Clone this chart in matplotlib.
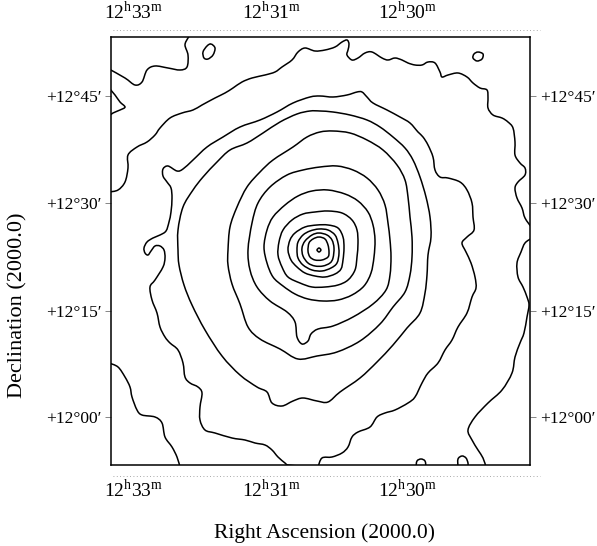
import numpy as np
import matplotlib
matplotlib.use("Agg")
import matplotlib.pyplot as plt
from matplotlib.path import Path
from matplotlib.patches import PathPatch
from matplotlib.lines import Line2D

plt.rcParams['font.family'] = ['Liberation Serif', 'DejaVu Serif']
plt.rcParams['mathtext.fontset'] = 'custom'
plt.rcParams['mathtext.rm'] = 'Liberation Serif'

# map grid: column / row of the contour image (row grows downwards)
ra_cols = [134, 272, 408]
ra_labels = [r'12$^{\rm h}$33$^{\rm m}$', r'12$^{\rm h}$31$^{\rm m}$', r'12$^{\rm h}$30$^{\rm m}$']
dec_rows = [96, 203, 311, 417]
dec_labels = ['+12°45′', '+12°30′', '+12°15′', '+12°00′']

# closed surface brightness contours, inner to outer (col, row)
lev1 = [(321, 250), (319, 252), (317, 250), (319, 248)]
lev2 = [(319, 237), (325, 239), (328, 245), (329, 252), (328, 257), (322, 260),
        (315, 260), (310, 257), (308, 251), (309, 243), (313, 239)]
lev3 = [(319, 233), (327, 235), (332, 240), (334, 248), (333, 258), (330, 263),
        (323, 266), (315, 266), (308, 263), (303, 256), (302, 248), (305, 241), (312, 235)]
lev4 = [(319, 229), (328, 230), (335, 235), (338, 243), (339, 253), (337, 263),
        (331, 268), (322, 271), (312, 270), (303, 265), (298, 258), (297, 250),
        (298, 242), (303, 235), (310, 231)]
lev5 = [(317, 225), (328, 225), (338, 228), (343, 237), (344, 248), (343, 260),
        (341, 269), (335, 274), (325, 277), (315, 276), (305, 273), (297, 267),
        (291, 260), (288, 250), (290, 240), (295, 233), (305, 227)]
lev6 = [(315, 212), (328, 211), (342, 213), (352, 220), (357, 230), (358, 243),
        (357, 257), (355, 270), (348, 280), (338, 285), (325, 287), (312, 287),
        (300, 283), (288, 277), (282, 267), (278, 255), (279, 242), (283, 230),
        (292, 220), (303, 214)]
lev7 = [(312, 191), (328, 190), (345, 194), (358, 201), (368, 212), (373, 225),
        (375, 240), (374, 257), (371, 273), (364, 286), (352, 295), (338, 300),
        (323, 301), (308, 299), (295, 294), (283, 286), (273, 277), (267, 263),
        (264, 247), (267, 230), (273, 217), (285, 205), (298, 196)]
lev8 = [(320, 167), (337, 166), (353, 170), (367, 178), (378, 190), (385, 205),
        (388, 223), (390, 240), (391, 257), (390, 275), (386, 290), (373, 304),
        (353, 317), (333, 326), (318, 329), (311, 334), (308, 341), (302, 344),
        (297, 337), (295, 322), (287, 312), (270, 301), (257, 287), (250, 270),
        (248, 250), (252, 223), (258, 203), (270, 187), (287, 175), (303, 170)]
lev9 = [(320, 132), (333, 131), (350, 133), (367, 140), (383, 150), (397, 165),
        (405, 180), (408, 197), (410, 217), (412, 237), (412, 257), (410, 275),
        (405, 292), (393, 307), (380, 324), (360, 341), (337, 352), (317, 356),
        (298, 359), (280, 349), (260, 339), (248, 327), (240, 304), (232, 284),
        (228, 265), (228, 250), (230, 227), (237, 207), (247, 187), (260, 172),
        (273, 160), (293, 147), (307, 137)]
lev10 = [(320, 111), (333, 112), (350, 115), (367, 120), (380, 127), (393, 137),
         (405, 148), (413, 160), (420, 177), (426, 197), (430, 217), (431, 237),
         (428, 255), (427, 275), (425, 293), (420, 313), (407, 328), (393, 345),
         (377, 362), (360, 378), (340, 392), (328, 402), (317, 401), (303, 398),
         (293, 401), (282, 406), (272, 403), (267, 392), (257, 387), (240, 375),
         (222, 356), (205, 330), (192, 305), (184, 285), (179, 265), (178, 250),
         (178, 230), (183, 207), (193, 190), (203, 177), (217, 162), (230, 150),
         (247, 143), (263, 133), (280, 122), (297, 114), (310, 111)]

# open contours cut by the map border
lev11 = [(300, 466), (288, 465), (285, 463), (278, 457), (272, 450), (265, 445),
         (255, 443), (245, 440), (232, 438), (215, 433), (205, 430), (200, 420),
         (200, 407), (202, 393), (198, 387), (190, 383), (185, 377), (183, 363),
         (178, 350), (170, 343), (165, 337), (160, 327), (157, 313), (152, 300),
         (150, 287), (155, 280), (163, 267), (165, 258), (164, 250), (160, 246),
         (155, 246), (151, 251), (148, 255), (145, 253), (144, 248), (147, 242),
         (153, 238), (160, 235), (166, 231), (169, 222), (171, 212), (172, 198),
         (171, 188), (167, 182), (163, 176), (163, 169), (168, 166), (177, 171),
         (183, 169), (193, 160), (207, 147), (223, 137), (240, 127), (260, 120),
         (277, 112), (293, 103), (310, 97), (320, 96), (333, 97), (347, 95),
         (357, 92), (362, 92), (367, 97), (373, 103), (387, 110), (400, 117),
         (410, 123), (418, 132), (423, 137), (428, 145), (433, 157), (435, 170),
         (440, 177), (448, 178), (460, 182), (467, 190), (472, 203), (473, 217),
         (474, 230), (467, 237), (462, 243), (466, 252), (471, 263), (475, 277),
         (476, 288), (472, 297), (467, 313), (458, 327), (452, 340), (445, 350),
         (438, 363), (428, 373), (422, 383), (415, 397), (408, 403), (395, 410),
         (385, 413), (377, 417), (370, 427), (358, 432), (352, 437), (348, 447),
         (342, 453), (332, 457), (322, 458), (318, 467)]
lev12 = [(109, 192), (118, 190), (125, 182), (128, 168), (128, 155), (137, 147),
         (147, 142), (155, 135), (160, 128), (170, 118), (182, 113), (193, 110),
         (202, 105), (215, 98), (225, 93), (233, 88), (242, 82), (252, 78),
         (265, 75), (275, 72), (282, 67), (292, 60), (298, 52), (305, 48),
         (315, 51), (325, 50), (335, 47), (342, 42), (347, 40), (349, 44),
         (348, 50), (347, 55), (352, 60), (358, 58), (365, 53), (372, 52),
         (382, 58), (388, 60), (395, 58), (402, 60), (408, 63), (415, 65),
         (422, 65), (428, 62), (435, 63), (440, 72), (442, 77), (448, 75),
         (458, 73), (467, 77), (473, 83), (480, 88), (487, 90), (488, 98),
         (488, 108), (493, 115), (502, 118), (508, 122), (513, 128), (515, 142),
         (515, 155), (520, 163), (525, 168), (525, 175), (518, 182), (515, 188),
         (517, 198), (522, 208), (525, 218), (532, 228)]
edge_nw = [(109, 69), (125, 78), (135, 85), (142, 82), (147, 70), (155, 66),
           (168, 68), (180, 70), (187, 67), (188, 55), (185, 45), (188, 38), (191, 34)]
edge_w = [(109, 88), (115, 95), (120, 102), (125, 107), (120, 110), (113, 113), (109, 116)]
edge_e = [(532, 238), (525, 243), (521, 252), (517, 263), (518, 277), (523, 287),
          (527, 297), (529, 305), (527, 317), (524, 333), (520, 343), (515, 357),
          (512, 373), (502, 390), (488, 403), (475, 417), (468, 430), (472, 440),
          (478, 450), (483, 458), (486, 467)]
edge_sw = [(109, 363), (118, 367), (125, 377), (130, 387), (132, 397), (137, 410),
           (142, 415), (155, 417), (162, 423), (165, 437), (172, 447), (177, 457), (180, 467)]
bump_s1 = [(416, 467), (417, 461), (421, 459), (425, 461), (426, 467)]
bump_s2 = [(458, 467), (458, 459), (462, 456), (466, 458), (468, 463), (468, 467)]

# small isolated blobs
blob_n = [(211, 44), (215, 48), (213, 55), (208, 59), (204, 58), (203, 52), (207, 46)]
blob_ne = [(478, 52), (483, 54), (482, 59), (477, 61), (473, 58), (474, 54)]

closed_levels = [lev1, lev2, lev3, lev4, lev5, lev6, lev7, lev8, lev9, lev10, blob_n, blob_ne]
open_levels = [lev11, lev12, edge_nw, edge_w, edge_e, edge_sw, bump_s1, bump_s2]


def smooth_path(pts, closed):
    # Catmull-Rom spline through the contour vertices, as cubic Bezier segments
    p = np.asarray(pts, float)
    if closed:
        P = np.vstack([p[-1], p, p[0], p[1]])
    else:
        P = np.vstack([p[0], p, p[-1]])
    verts = [P[1]]
    codes = [Path.MOVETO]
    for i in range(1, len(P) - 2):
        p0, p1, p2, p3 = P[i - 1], P[i], P[i + 1], P[i + 2]
        verts += [p1 + (p2 - p0) / 6.0, p2 - (p3 - p1) / 6.0, p2]
        codes += [Path.CURVE4] * 3
    return Path(verts, codes)


W, H = 597, 546
fig = plt.figure(figsize=(W / 100, H / 100), dpi=100)
ax = fig.add_axes([111 / W, 1 - 465 / H, 419 / W, 428 / H])
ax.set_xlim(111, 530)
ax.set_ylim(465, 37)

for c in closed_levels:
    ax.add_patch(PathPatch(smooth_path(c, True), fill=False, lw=1.1, ec='black'))
for c in open_levels:
    ax.add_patch(PathPatch(smooth_path(c, False), fill=False, lw=1.1, ec='black'))

for s in ax.spines.values():
    s.set_linewidth(1.1)

ax.set_xticks(ra_cols)
ax.set_xticklabels(ra_labels)
ax.set_yticks(dec_rows)
ax.set_yticklabels(dec_labels)
ax.tick_params(axis='x', top=True, labeltop=True, bottom=True, labelbottom=True,
               length=0, pad=10, labelsize=14)
ax.tick_params(axis='y', left=True, right=True, labelleft=True, labelright=True,
               direction='out', length=4, width=0.6, color='0.45', pad=3, labelsize=12.5)

# faint dotted tick rows above and below the map
for yy in (1 - 30 / H, 1 - 476 / H):
    fig.add_artist(Line2D([113 / W, 540 / W], [yy, yy], transform=fig.transFigure,
                          lw=0.6, color='0.55', ls=(0, (1, 3))))

fig.text(324 / W, 1 - 533 / H, 'Right Ascension (2000.0)', ha='center', va='center', fontsize=15.5)
fig.text(18 / W, 1 - 305 / H, 'Declination (2000.0)', ha='center', va='center',
         rotation=90, fontsize=16)

fig.savefig('out.png', dpi=100, facecolor='white')
